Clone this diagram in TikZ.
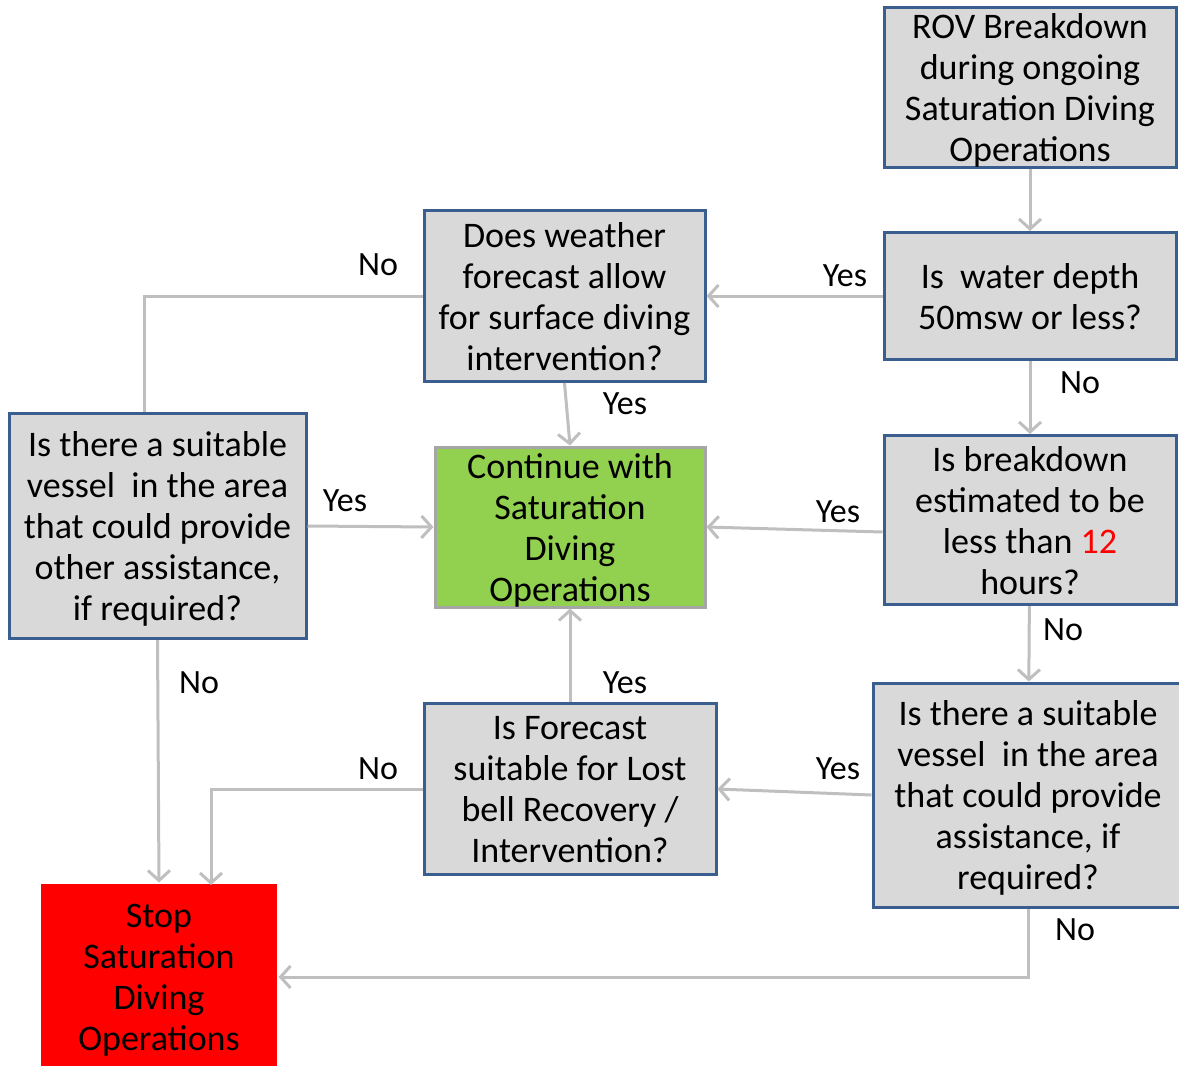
\documentclass[tikz,border=0pt]{standalone}
\usepackage{fontspec}
\setmainfont{Carlito}
\usetikzlibrary{arrows.meta}
\definecolor{boxblue}{HTML}{3A5F8F}
\definecolor{boxgray}{HTML}{D9D9D9}
\definecolor{linegray}{HTML}{BFBFBF}
\definecolor{okgreen}{HTML}{92D050}
\definecolor{stopred}{HTML}{FF0000}
\begin{document}
\begin{tikzpicture}[x=1pt,y=-1pt,
  txt/.style={font=\fontsize{36}{41}\selectfont, align=center, inner sep=0pt, text depth=0pt},
  qbox/.style={txt, draw=boxblue, line width=3pt, fill=boxgray},
  endbox/.style={txt, line width=3pt},
  lbl/.style={font=\fontsize{34}{40}\selectfont, inner sep=0pt},
  arr/.style={draw=linegray, line width=3pt, -{Straight Barb[length=10pt,width=22pt]}},
  line/.style={draw=linegray, line width=3pt}]
  \useasboundingbox (0,0) rectangle (1179,1066);

  % question boxes
  \node[qbox, minimum width=292pt, minimum height=160pt] (rov) at (1030,87)
    {ROV Breakdown\\during ongoing\\Saturation Diving\\Operations};
  \node[qbox, minimum width=292pt, minimum height=127pt] (depth) at (1030,296)
    {Is\ \ water depth\\50msw or less?};
  \node[qbox, minimum width=281pt, minimum height=171pt] (weather) at (564.5,296)
    {Does weather\\forecast allow\\for surface diving\\intervention?};
  \node[qbox, minimum width=292pt, minimum height=169pt] (breakdown) at (1030,520)
    {Is breakdown\\estimated to be\\less than \textcolor{stopred}{12}\\hours?};
  \node[qbox, minimum width=297pt, minimum height=225pt] (lvessel) at (157.5,526)
    {Is there a suitable\\vessel\ \ in the area\\that could provide\\other assistance,\\if required?};
  \node[qbox, minimum width=292pt, minimum height=171pt] (forecast) at (570,789)
    {Is Forecast\\suitable for Lost\\bell Recovery /\\Intervention?};
  \node[qbox, minimum width=310pt, minimum height=224pt] (rvessel) at (1028,795)
    {Is there a suitable\\vessel\ \ in the area\\that could provide\\assistance, if\\required?};

  % outcome boxes
  \node[endbox, draw=gray!70, fill=okgreen, minimum width=270pt, minimum height=160pt] (cont) at (570,527)
    {Continue with\\Saturation\\Diving\\Operations};
  \node[endbox, fill=stopred, minimum width=236pt, minimum height=186pt] (stop) at (159,977)
    {Stop\\Saturation\\Diving\\Operations};
  \coordinate (stopin) at (211,885);

  % connectors
  \draw[arr] (rov) -- (depth);
  \draw[arr] (depth.west) -- (weather.east);
  \draw[arr] (depth) -- (breakdown);
  \draw[arr] (weather.south) -- (cont.north);
  \draw[line] (weather.west) -| ([xshift=-13pt]lvessel.north);
  \draw[arr] ([yshift=-12pt]breakdown.west) -- (cont.east);
  \draw[arr] (breakdown) -- (rvessel);
  \draw[arr] (lvessel.east) -- (cont.west);
  \draw[arr] (lvessel.south) -- (stop.north);
  \draw[arr] (forecast.north) -- (cont.south);
  \draw[arr] (forecast.west) -| (stopin);
  \draw[arr] (rvessel.west) -- (forecast.east);
  \draw[arr] (rvessel.south) |- (stop.east);

  % labels
  \node[lbl] (l1) at (378,265) {No};
  \node[lbl] (l2) at (845,276) {Yes};
  \node[lbl] (l3) at (1080,383) {No};
  \node[lbl] (l4) at (625,404) {Yes};
  \node[lbl] (l5) at (345,501) {Yes};
  \node[lbl] (l6) at (838,512) {Yes};
  \node[lbl] (l7) at (1063,630) {No};
  \node[lbl] (l8) at (199,683) {No};
  \node[lbl] (l9) at (625,683) {Yes};
  \node[lbl] (l10) at (378,769) {No};
  \node[lbl] (l11) at (838,769) {Yes};
  \node[lbl] (l12) at (1075,930) {No};
\end{tikzpicture}
\end{document}
